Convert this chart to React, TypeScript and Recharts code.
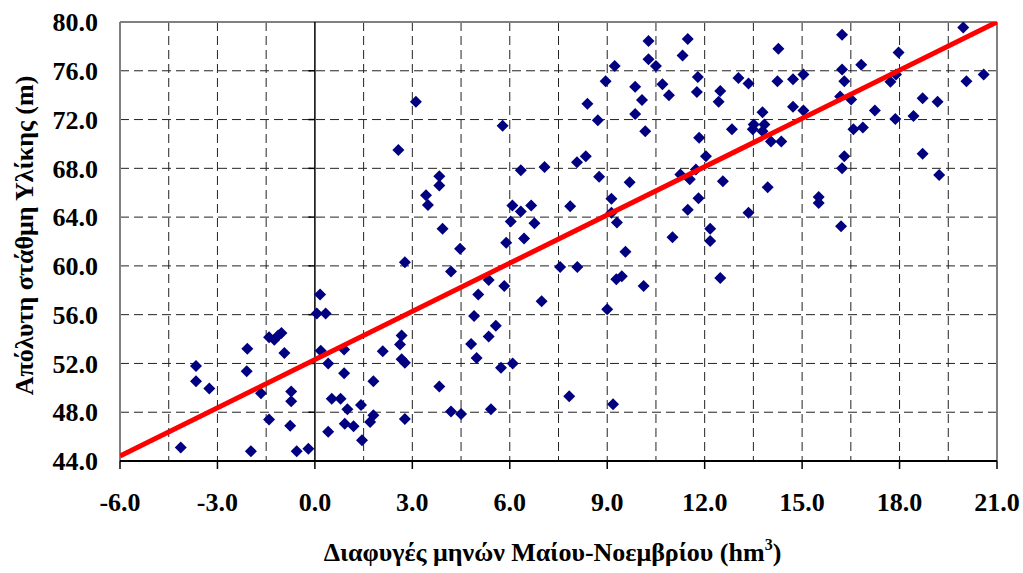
import { CartesianGrid, Label, ReferenceLine, Scatter, ScatterChart, XAxis, YAxis } from "recharts";

// leakage May-November (hm3) vs absolute level of Yliki (m)
const leakX = [
    2.57, 3.11, 5.78, 3.83, 3.83, 3.42, 3.48, 3.93, 6.34, 7.07,
    6.08, 6.34, 6.66, 6.03, 6.76, 6.44, 5.89, 8.07, 8.34, 8.75,
    7.86, 8.39, 8.71, 8.95, 9.23, 10.27, 10.27, 10.5, 9.86, 10.07,
    9.86, 10.17, 10.7, 10.9, 11.32, 11.48, 11.79, 11.76, 11.83, 9.69,
    9.13, 9.13, 9.3, 11.25, 11.54, 11.73, 11.81, 11.48, 11.01, 12.04,
    12.17, 12.17, 12.56, 12.84, 12.43, 12.48, 13.04, 13.35, 14.27, 14.24,
    14.72, 15.04, 13.78, 13.51, 13.84, 13.48, 13.78, 14.04, 14.36, 14.72,
    15.04, 13.94, 13.35, 15.51, 15.51, 16.23, 16.23, 16.3, 16.17, 16.51,
    16.82, 17.24, 16.58, 16.87, 16.3, 16.23, 16.2, 17.97, 17.72, 17.89,
    17.87, 18.43, 18.71, 19.17, 18.71, 19.22, 19.96, 20.06, 20.59, 12.48,
    2.77, 0.16, 0.06, 0.33, -1.41, -1.25, -1.03, -1.13, -2.08, -0.94,
    0.18, 0.9, 2.09, 2.67, 2.62, 2.67, 2.77, 0.41, 0.9, 1.8,
    -3.66, -3.66, -3.25, -2.1, -1.66, -0.73, -0.73, 0.52, 0.79, 1.0,
    1.42, 1.8, 1.7, 2.77, -1.41, -0.76, 0.41, 0.92, 1.19, 1.45,
    -4.13, -1.97, -0.56, -0.2, 4.47, 4.19, 5.35, 5.83, 5.03, 4.9,
    5.57, 5.35, 4.81, 4.98, 5.73, 6.09, 3.83, 4.19, 4.5, 5.42,
    7.55, 8.08, 6.98, 9.0, 9.28, 9.45, 9.56, 10.12, 7.83, 9.18,
];

const levelY = [
    69.5, 73.45, 71.5, 67.35, 66.6, 65.8, 65.0, 63.05, 67.85, 68.1,
    64.95, 64.45, 64.95, 63.65, 63.5, 62.25, 61.9, 68.5, 69.0, 67.3,
    64.9, 73.3, 71.95, 75.15, 76.4, 78.45, 76.95, 76.4, 74.7, 73.6,
    72.45, 71.05, 74.9, 74.0, 77.25, 78.6, 75.5, 74.25, 70.5, 66.85,
    65.5, 64.35, 63.55, 67.5, 67.1, 67.9, 65.55, 64.6, 62.35, 69.0,
    63.05, 62.05, 66.95, 71.2, 73.45, 74.35, 75.4, 74.95, 77.8, 75.15,
    75.3, 75.7, 72.6, 71.6, 71.6, 71.2, 71.05, 70.2, 70.2, 73.05,
    72.75, 66.45, 64.35, 65.65, 65.15, 78.95, 76.1, 75.15, 73.9, 73.65,
    76.5, 72.75, 71.2, 71.35, 69.0, 68.0, 63.25, 77.5, 75.1, 75.7,
    72.05, 72.3, 73.75, 73.45, 69.2, 67.45, 79.55, 75.15, 75.7, 59.0,
    60.3, 57.65, 56.1, 56.1, 54.15, 53.95, 54.5, 54.3, 53.2, 52.85,
    53.05, 53.15, 53.0, 54.3, 53.55, 52.35, 52.05, 52.0, 51.2, 50.55,
    51.8, 50.55, 49.95, 51.35, 49.55, 49.7, 48.9, 49.1, 49.1, 48.25,
    48.6, 47.75, 47.2, 47.45, 47.4, 46.9, 46.4, 47.05, 46.85, 45.7,
    45.1, 44.8, 44.8, 45.0, 61.4, 59.55, 58.85, 58.35, 57.65, 55.9,
    55.1, 54.2, 53.6, 52.45, 51.65, 52.0, 50.1, 48.05, 47.85, 48.25,
    59.9, 59.9, 57.1, 56.45, 58.9, 59.15, 61.15, 58.35, 49.3, 48.65,
];

// linear trend line end points
const fitX = [-6, 21];
const fitY = [44.4, 80];

const xTicks = [-6, -3, 0, 3, 6, 9, 12, 15, 18, 21];
const xGrid = [-4.5, -3, -1.5, 1.5, 3, 4.5, 6, 7.5, 9, 10.5, 12, 13.5, 15, 16.5, 18, 19.5];
const yTicks = [44, 48, 52, 56, 60, 64, 68, 72, 76, 80];

const points = leakX.map((x, i) => ({ x, y: levelY[i] }));
const fitLine = fitX.map((x, i) => ({ x, y: fitY[i] }));

const FONT = "Liberation Serif, Times New Roman, Times, serif";
const tickStyle = { fill: "#000", fontSize: 26, fontWeight: "bold", fontFamily: FONT, style: { fontFamily: FONT } };

const Diamond = (props: any) => {
    const { cx, cy } = props;
    const r = 6;
    return <polygon points={`${cx},${cy - r} ${cx + r},${cy} ${cx},${cy + r} ${cx - r},${cy}`} fill="#000080" />;
};

const XTitle = (props: any) => {
    const vb = props.viewBox;
    return (
        <text x={vb.x + vb.width / 2 - 6} y={vb.y + 100} textAnchor="middle" style={{ fontFamily: FONT }} fontWeight="bold" fontSize={26} fill="#000">
            <tspan>Διαφυγές μηνών Μαίου-Νοεμβρίου (hm</tspan>
            <tspan dy={-11} fontSize={16}>3</tspan>
            <tspan dy={11}>)</tspan>
        </text>
    );
};

const YTitle = (props: any) => {
    const vb = props.viewBox;
    const cx = 24;
    const cy = vb.y + vb.height / 2 - 6;
    return (
        <text x={cx} y={cy} transform={`rotate(-90 ${cx} ${cy})`} textAnchor="middle" dominantBaseline="central" style={{ fontFamily: FONT }} fontWeight="bold" fontSize={26} fill="#000">
            Απόλυτη στάθμη Υλίκης (m)
        </text>
    );
};

export default function App() {
    return (
        <div style={{ position: "absolute", left: 0, top: 0, width: 1023, height: 573, background: "#fff", fontFamily: FONT }}>
            <ScatterChart width={1023} height={573} margin={{ top: 22, right: 26, bottom: 0, left: 0 }}>
                <CartesianGrid stroke="#222" strokeDasharray="9 5" xAxisId="minor" />
                <XAxis
                    type="number"
                    dataKey="x"
                    domain={[-6, 21]}
                    ticks={xTicks}
                    allowDataOverflow
                    tickFormatter={(v: number) => v.toFixed(1)}
                    height={112}
                    tickSize={8}
                    tickMargin={24}
                    tick={tickStyle}
                    axisLine={{ stroke: "#000", strokeWidth: 2 }}
                    tickLine={{ stroke: "#000", strokeWidth: 1.5 }}
                    interval={0}
                >
                    <Label content={XTitle} />
                </XAxis>
                <XAxis
                    xAxisId="minor"
                    type="number"
                    dataKey="x"
                    domain={[-6, 21]}
                    ticks={xGrid}
                    allowDataOverflow
                    height={0}
                    tick={() => <g />}
                    axisLine={false}
                    tickLine={false}
                    interval={0}
                />
                <YAxis
                    type="number"
                    dataKey="y"
                    domain={[44, 80]}
                    ticks={yTicks}
                    allowDataOverflow
                    tickFormatter={(v: number) => v.toFixed(1)}
                    width={120}
                    tickSize={0}
                    tickMargin={22}
                    tick={tickStyle}
                    axisLine={false}
                    tickLine={false}
                    interval={0}
                >
                    <Label content={YTitle} />
                </YAxis>
                <ReferenceLine x={-6} stroke="#808080" strokeWidth={2} />
                <ReferenceLine x={21} stroke="#808080" strokeWidth={2} />
                <ReferenceLine y={80} stroke="#808080" strokeWidth={2} />
                <ReferenceLine x={0} stroke="#000" strokeWidth={1.5} />
                {yTicks.slice(1, -1).map((v) => (
                    <ReferenceLine key={v} segment={[{ x: -0.2, y: v }, { x: 0, y: v }]} stroke="#000" strokeWidth={1.5} />
                ))}
                <Scatter data={points} shape={Diamond} isAnimationActive={false} />
                <Scatter
                    xAxisId="minor"
                    data={fitLine}
                    line={{ stroke: "#ff0000", strokeWidth: 5 }}
                    shape={() => <g />}
                    isAnimationActive={false}
                />
            </ScatterChart>
        </div>
    );
}
